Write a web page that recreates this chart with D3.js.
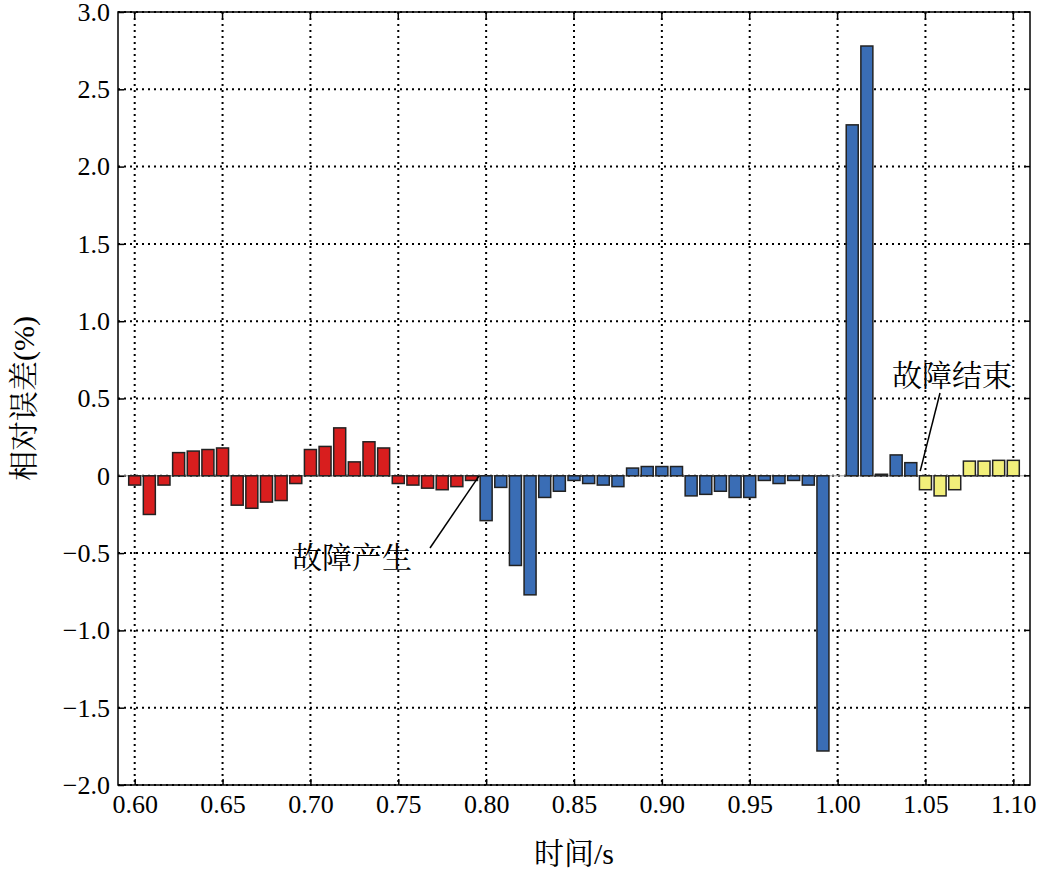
<!DOCTYPE html><html><head><meta charset="utf-8"><script src="https://cdn.jsdelivr.net/npm/d3@7"></script>
<style>body{margin:0;background:#fff}text{font-family:"Liberation Serif","Noto Serif CJK SC","Noto Sans CJK SC",serif}</style></head><body><svg id="c" width="1040" height="871"></svg><script>
const redVals=[-0.06,-0.25,-0.06,0.15,0.16,0.17,0.18,-0.19,-0.21,-0.17,-0.16,-0.05,0.17,0.19,0.31,0.09,0.22,0.18,-0.05,-0.06,-0.08,-0.09,-0.07,-0.03];
const blueVals=[-0.29,-0.075,-0.58,-0.77,-0.14,-0.10,-0.03,-0.05,-0.06,-0.07,0.05,0.06,0.06,0.06,-0.13,-0.12,-0.10,-0.14,-0.14,-0.03,-0.05,-0.03,-0.06,-1.78,0,2.27,2.78,0.01,0.135,0.085];
const yellowVals=[-0.09,-0.13,-0.09,0.095,0.095,0.10,0.10];
const xTicks=[0.60,0.65,0.70,0.75,0.80,0.85,0.90,0.95,1.00,1.05,1.10];
const yTicks=[-2.0,-1.5,-1.0,-0.5,0,0.5,1.0,1.5,2.0,2.5,3.0];
const data=[];
[[redVals,"#d81e1e"],[blueVals,"#3a6db5"],[yellowVals,"#f2ef7a"]].forEach(([a,c])=>a.forEach(v=>data.push({v,c})));
data.forEach((d,i)=>d.t=0.6+i/120);
const svg=d3.select("#c");
const L=118,R=1030,T=12,B=785;
const x=d3.scaleLinear().domain([0.5905,1.1095]).range([L,R]);
const y=d3.scaleLinear().domain([-2,3]).range([B,T]);
const g=svg.append("g");
xTicks.forEach(t=>g.append("line").attr("x1",x(t)).attr("x2",x(t)).attr("y1",T).attr("y2",B).attr("stroke","#000").attr("stroke-width",2).attr("stroke-dasharray","2,4"));
yTicks.forEach(t=>g.append("line").attr("x1",L).attr("x2",R).attr("y1",y(t)).attr("y2",y(t)).attr("stroke","#000").attr("stroke-width",2).attr("stroke-dasharray","2,4"));
g.append("line").attr("x1",L).attr("x2",R).attr("y1",y(0)).attr("y2",y(0)).attr("stroke","#999").attr("stroke-width",1);
const bw=12;
g.selectAll("rect.b").data(data.filter(d=>d.v!==0)).enter().append("rect")
 .attr("x",d=>x(d.t)-bw/2).attr("width",bw)
 .attr("y",d=>y(Math.max(0,d.v))).attr("height",d=>Math.abs(y(d.v)-y(0)))
 .attr("fill",d=>d.c).attr("stroke","#222").attr("stroke-width",1.5);
svg.append("rect").attr("x",L).attr("y",T).attr("width",R-L).attr("height",B-T).attr("fill","none").attr("stroke","#000").attr("stroke-width",1.5);
const xa=svg.append("g").attr("transform",`translate(0,${B})`).call(d3.axisBottom(x).tickValues(xTicks).tickFormat(d3.format(".2f")).tickSize(-6).tickPadding(10));
const ya=svg.append("g").attr("transform",`translate(${L},0)`).call(d3.axisLeft(y).tickValues(yTicks).tickFormat(d=>d===0?"0":d3.format(".1f")(d).replace("-","−")).tickSize(-6).tickPadding(8));
[xa,ya].forEach(a=>{a.select(".domain").remove();a.selectAll("text").attr("font-size",26).attr("fill","#000");a.selectAll("line").attr("stroke","#000").attr("stroke-width",1.5);});
xTicks.forEach(t=>svg.append("line").attr("x1",x(t)).attr("x2",x(t)).attr("y1",T).attr("y2",T+6).attr("stroke","#000").attr("stroke-width",1.5));
yTicks.forEach(t=>svg.append("line").attr("x1",R).attr("x2",R-6).attr("y1",y(t)).attr("y2",y(t)).attr("stroke","#000").attr("stroke-width",1.5));
svg.append("text").attr("x",(L+R)/2).attr("y",864).attr("text-anchor","middle").attr("font-size",30).text("时间/s");
svg.append("text").attr("transform",`translate(34,${(T+B)/2}) rotate(-90)`).attr("text-anchor","middle").attr("font-size",30).text("相对误差(%)");
svg.append("line").attr("x1",430).attr("y1",548).attr("x2",x(0.796)).attr("y2",y(0)).attr("stroke","#000").attr("stroke-width",1.5);
svg.append("text").attr("x",352).attr("y",568).attr("text-anchor","middle").attr("font-size",30).text("故障产生");
svg.append("line").attr("x1",940).attr("y1",393).attr("x2",x(1.047)).attr("y2",y(0.03)).attr("stroke","#000").attr("stroke-width",1.5);
svg.append("text").attr("x",952).attr("y",386).attr("text-anchor","middle").attr("font-size",30).text("故障结束");
</script></body></html>
